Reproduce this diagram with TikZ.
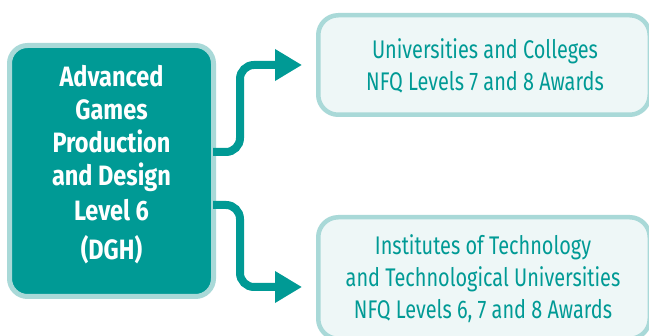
\documentclass[tikz,border=0pt]{standalone}
\usepackage{fontspec}
\setmainfont{Fira Sans}
\newfontfamily\condreg[FakeStretch=0.78]{Fira Sans}
\newfontfamily\condbold[FakeStretch=0.84]{Fira Sans Bold}
\usetikzlibrary{arrows.meta}
\definecolor{teal1}{HTML}{009A95}
\definecolor{tealborder}{HTML}{A9D9D8}
\definecolor{tealfill}{HTML}{EEF7F7}
\begin{document}
\begin{tikzpicture}[x=1pt,y=1pt,
  mainbox/.style={draw=tealborder,line width=5pt,fill=teal1,rounded corners=18pt,inner sep=0pt},
  destbox/.style={draw=tealborder,line width=4.5pt,fill=tealfill,rounded corners=20pt,inner sep=0pt},
  maintext/.style={text=white,align=center,font=\condbold\fontsize{28}{33}\selectfont},
  desttext/.style={text=teal1,align=center,font=\condreg\fontsize{25.5}{32}\selectfont},
  conn/.style={draw=teal1,line width=8pt,rounded corners=14pt,-{Triangle[length=27pt,width=30pt]}}]
\clip (0,0) rectangle (649,336);
\fill[white] (0,0) rectangle (649,336);
\node[mainbox,minimum width=204pt,minimum height=251pt] (L) at (111.5,165) {};
\node[maintext] (Lt) at (111.5,171) {Advanced\\Games\\Production\\and Design\\[2pt]Level 6\\[6pt](DGH)};
\node[destbox,minimum width=331.5pt,minimum height=99.5pt] (U) at (484,271) {};
\node[desttext] (Ut) at (485,270) {Universities and Colleges\\NFQ Levels 7 and 8 Awards};
\node[destbox,minimum width=331.5pt,minimum height=121.5pt] (B) at (484,58) {};
\node[desttext] (Bt) at (483,57) {Institutes of Technology\\and Technological Universities\\NFQ Levels 6, 7 and 8 Awards};
\coordinate (u0) at (L.east |- 0,184);
\coordinate (u1) at (302,271);
\coordinate (b0) at (L.east |- 0,131);
\coordinate (b1) at (302,49);
\draw[conn] ([xshift=-3pt]u0) -| (240,240) |- (u1);
\draw[conn] ([xshift=-3pt]b0) -| (240,80) |- (b1);
\end{tikzpicture}
\end{document}
